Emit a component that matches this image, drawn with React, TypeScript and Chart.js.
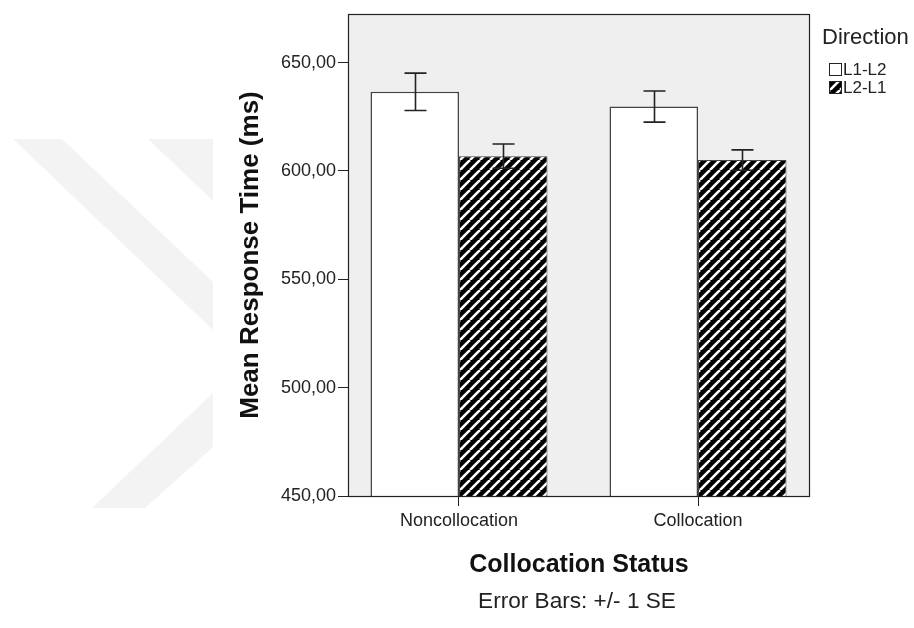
import React, { useEffect, useRef } from "react";
import { Chart, registerables } from "chart.js";

Chart.register(...registerables);

const categories = ["Noncollocation", "Collocation"];
const seriesLabels = ["L1-L2", "L2-L1"];
const l1l2Means = [636.5, 629.7];
const l2l1Means = [606.8, 605.0];
const l1l2SE = [8.6, 7.2];
const l2l1SE = [5.6, 4.7];
const yTickValues = [450, 500, 550, 600, 650];
const yMin = 450;
const yMax = 672.4;
const legendTitle = "Direction";
const xTitle = "Collocation Status";
const yTitle = "Mean Response Time (ms)";
const caption = "Error Bars: +/- 1 SE";

const FONT = "'Liberation Sans', Arial, sans-serif";

function makeHatch(): CanvasPattern | string {
  const c = document.createElement("canvas");
  const s = 10;
  c.width = s;
  c.height = s;
  const g = c.getContext("2d");
  if (!g) return "#000";
  g.fillStyle = "#000";
  g.fillRect(0, 0, s, s);
  g.strokeStyle = "#fff";
  g.lineWidth = 2.6;
  for (const k of [-s, 0, s]) {
    g.beginPath();
    g.moveTo(k, s);
    g.lineTo(k + s, 0);
    g.stroke();
  }
  const p = g.createPattern(c, "repeat");
  return p || "#000";
}

export default function App() {
  const ref = useRef<HTMLCanvasElement | null>(null);

  useEffect(() => {
    const canvas = ref.current;
    if (!canvas) return;
    const hatch = makeHatch();
    const seList = [l1l2SE, l2l1SE];
    const meanList = [l1l2Means, l2l1Means];

    const decor = {
      id: "decor",
      beforeDraw(chart: any) {
        const { ctx, chartArea } = chart;
        ctx.save();
        // faint watermark
        ctx.fillStyle = "#f3f3f3";
        const polys = [
          [[13, 139], [62, 139], [213, 282], [213, 330]],
          [[148, 139], [213, 139], [213, 201]],
          [[213, 393], [213, 447], [145, 508], [92, 508]],
        ];
        for (const p of polys) {
          ctx.beginPath();
          ctx.moveTo(p[0][0], p[0][1]);
          for (let i = 1; i < p.length; i++) ctx.lineTo(p[i][0], p[i][1]);
          ctx.closePath();
          ctx.fill();
        }
        // plot background
        ctx.fillStyle = "#efefef";
        ctx.fillRect(chartArea.left, chartArea.top, chartArea.right - chartArea.left, chartArea.bottom - chartArea.top);
        ctx.restore();
      },
      afterDatasetsDraw(chart: any) {
        const { ctx, chartArea, scales } = chart;
        const ys = scales.y;
        ctx.save();
        // error bars
        ctx.strokeStyle = "#222";
        ctx.lineWidth = 1.6;
        for (let d = 0; d < 2; d++) {
          const meta = chart.getDatasetMeta(d);
          meta.data.forEach((el: any, i: number) => {
            const x = Math.round(el.x) + 0.5;
            const top = ys.getPixelForValue(meanList[d][i] + seList[d][i]);
            const bot = ys.getPixelForValue(meanList[d][i] - seList[d][i]);
            ctx.beginPath();
            ctx.moveTo(x, top);
            ctx.lineTo(x, bot);
            ctx.moveTo(x - 11, top);
            ctx.lineTo(x + 11, top);
            ctx.moveTo(x - 11, bot);
            ctx.lineTo(x + 11, bot);
            ctx.stroke();
          });
        }
        // frame
        ctx.strokeStyle = "#222";
        ctx.lineWidth = 1.2;
        ctx.strokeRect(chartArea.left + 0.5, chartArea.top + 0.5, chartArea.right - chartArea.left - 1, chartArea.bottom - chartArea.top);
        ctx.restore();
      },
      afterDraw(chart: any) {
        const { ctx, chartArea } = chart;
        ctx.save();
        // caption
        ctx.fillStyle = "#222";
        ctx.font = `22.6px ${FONT}`;
        ctx.textAlign = "center";
        ctx.textBaseline = "middle";
        ctx.fillText(caption, (chartArea.left + chartArea.right) / 2 - 2, 602);
        // legend
        ctx.textAlign = "left";
        ctx.font = `22px ${FONT}`;
        ctx.fillText(legendTitle, 822, 38);
        ctx.font = `17px ${FONT}`;
        const fills = ["#ffffff", hatch];
        seriesLabels.forEach((lab, i) => {
          const by = 63 + i * 18;
          ctx.fillStyle = fills[i] as any;
          ctx.fillRect(829, by, 13, 13);
          ctx.strokeStyle = "#222";
          ctx.lineWidth = 1;
          ctx.strokeRect(829.5, by + 0.5, 12, 12);
          ctx.fillStyle = "#222";
          ctx.fillText(lab, 843, by + 7.5);
        });
        ctx.restore();
      },
    };

    const chart = new Chart(canvas, {
      type: "bar",
      data: {
        datasets: [
          {
            label: seriesLabels[0],
            data: l1l2Means.map((v, i) => ({ x: i, y: v })),
            backgroundColor: "#ffffff",
            borderColor: "#444",
            borderWidth: 1.5,
          },
          {
            label: seriesLabels[1],
            data: l2l1Means.map((v, i) => ({ x: i, y: v })),
            backgroundColor: hatch as any,
            borderColor: "#444",
            borderWidth: 1,
          },
        ],
      },
      plugins: [decor],
      options: {
        responsive: false,
        animation: false,
        devicePixelRatio: 1,
        categoryPercentage: 0.7406,
        barPercentage: 1,
        layout: { padding: { top: 14, right: 104, left: 0, bottom: 0 } },
        plugins: {
          legend: { display: false },
          tooltip: { enabled: false },
          title: { display: false },
        },
        scales: {
          x: {
            type: "linear",
            min: -0.4644,
            max: 1.4686,
            offset: false,
            afterBuildTicks: (scale: any) => {
              scale.ticks = categories.map((_, i) => ({ value: i }));
            },
            afterFit: (scale: any) => {
              scale.height = 132;
            },
            border: { display: false },
            grid: {
              display: true,
              offset: false,
              drawOnChartArea: false,
              drawTicks: true,
              tickLength: 10,
              color: "#222",
              lineWidth: 1,
            },
            ticks: {
              autoSkip: false,
              maxRotation: 0,
              padding: 4,
              color: "#222",
              font: { family: FONT, size: 18 },
              callback: (v: any) => categories[Math.round(Number(v))] ?? "",
            },
            title: {
              display: true,
              text: xTitle,
              color: "#111",
              font: { family: FONT, size: 25, weight: "bold", lineHeight: 1.2 },
              padding: { top: 0, bottom: 48 },
            },
          },
          y: {
            type: "linear",
            min: yMin,
            max: yMax,
            afterBuildTicks: (scale: any) => {
              scale.ticks = yTickValues.map((v) => ({ value: v }));
            },
            afterFit: (scale: any) => {
              scale.width = 348;
            },
            border: { display: false },
            grid: {
              display: true,
              drawOnChartArea: false,
              drawTicks: true,
              tickLength: 10,
              color: "#222",
              lineWidth: 1,
            },
            ticks: {
              padding: 2,
              color: "#222",
              font: { family: FONT, size: 18 },
              callback: (v: any) => Number(v).toFixed(2).replace(".", ","),
            },
            title: {
              display: true,
              text: yTitle,
              color: "#111",
              font: { family: FONT, size: 26, weight: "bold", lineHeight: 1.2 },
              padding: { top: 235, bottom: 0 },
            },
          },
        },
      } as any,
    });
    return () => chart.destroy();
  }, []);

  return (
    <div style={{ position: "fixed", left: 0, top: 0, width: 914, height: 628, background: "#fff" }}>
      <canvas ref={ref} width={914} height={628} style={{ width: 914, height: 628, display: "block" }} />
    </div>
  );
}
